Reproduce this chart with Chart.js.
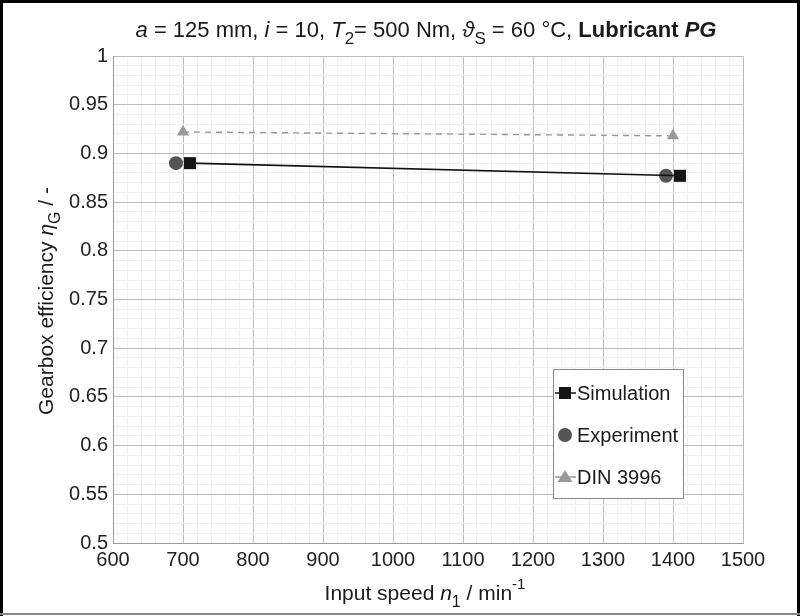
<!DOCTYPE html>
<html><head><meta charset="utf-8">
<script src="https://cdn.jsdelivr.net/npm/chart.js@4/dist/chart.umd.min.js"></script>
<style>
html,body{margin:0;padding:0;background:#fff;}
#wrap{position:relative;width:800px;height:616px;}
canvas{display:block}
</style></head><body>
<div id="wrap"><canvas id="c" width="800" height="616"></canvas></div>
<script>
// ---- data ----
const seriesNames = ['Simulation', 'Experiment', 'DIN 3996'];
const simSpeed = [710, 1410];
const simEff   = [0.890, 0.877];
const expSpeed = [690, 1390];
const expEff   = [0.890, 0.877];
const dinSpeed = [700, 1400];
const dinEff   = [0.922, 0.918];
const xRange = [600, 1500];
const yRange = [0.5, 1];
const xMajor = 100, xMinor = 20;
const yMajor = 0.05, yMinor = 0.01;

// ---- rich texts ----
const titleParts = [
  ['a','i'],[' = 125 mm, ','n'],['i','i'],[' = 10, ','n'],['T','i'],['2','sub'],['= 500 Nm, ','n'],
  ['\u03D1','i'],['S','sub'],[' = 60 \u00B0C, ','n'],['Lubricant ','b'],['PG','bi']
];
const yTitleParts = [['Gearbox efficiency ','n'],['\u03B7','i'],['G','sub'],[' / -','n']];
const xTitleParts = [['Input speed ','n'],['n','i'],['1','sub'],[' / min','n'],['-1','sup']];

const FAM = "'Liberation Sans', Arial, sans-serif";
const HFS = 22;   // main title
const TFS = 21;   // axis titles
const FS = 20;    // ticks / legend

function fontFor(kind, fs){
  switch(kind){
    case 'i': return 'italic ' + fs + 'px ' + FAM;
    case 'b': return 'bold ' + fs + 'px ' + FAM;
    case 'bi': return 'italic bold ' + fs + 'px ' + FAM;
    case 'sub': return Math.round(fs*0.75) + 'px ' + FAM;
    case 'sup': return Math.round(fs*0.7) + 'px ' + FAM;
    default: return fs + 'px ' + FAM;
  }
}
function drawRich(ctx, parts, cx, cy, fs){
  ctx.save();
  ctx.textBaseline = 'alphabetic';
  ctx.textAlign = 'left';
  let w = 0;
  for (const [t,k] of parts){ ctx.font = fontFor(k, fs); w += ctx.measureText(t).width; }
  let x = cx - w/2;
  const base = cy + Math.round(fs*0.36);
  for (const [t,k] of parts){
    ctx.font = fontFor(k, fs);
    let dy = 0;
    if (k === 'sub') dy = Math.round(fs*0.32);
    if (k === 'sup') dy = -Math.round(fs*0.5);
    ctx.fillText(t, x, base + dy);
    x += ctx.measureText(t).width;
  }
  ctx.restore();
}

const decor = {
  id: 'decor',
  beforeDraw(chart){
    const ctx = chart.ctx;
    ctx.save(); ctx.fillStyle = '#fff'; ctx.fillRect(0,0,chart.width,chart.height); ctx.restore();
  },
  afterDraw(chart){
    const ctx = chart.ctx;
    ctx.save();
    ctx.fillStyle = '#1a1a1a';
    drawRich(ctx, titleParts, 426, 29, HFS);
    drawRich(ctx, xTitleParts, 425, 592, TFS);
    ctx.save();
    ctx.translate(45, 301);
    ctx.rotate(-Math.PI/2);
    drawRich(ctx, yTitleParts, 0, 0, TFS);
    ctx.restore();

    // legend box
    const lx = 553, ly = 369, lw = 130, lh = 129;
    ctx.fillStyle = '#fff';
    ctx.fillRect(lx, ly, lw, lh);
    ctx.strokeStyle = '#8a8a8a'; ctx.lineWidth = 1;
    ctx.strokeRect(lx+0.5, ly+0.5, lw, lh);
    const ds = chart.data.datasets;
    const rows = [393, 435, 477];
    ds.forEach((d, i) => {
      const y = rows[i], mx = 565;
      if (d.showLine){
        ctx.strokeStyle = d.borderColor; ctx.lineWidth = 1.5; ctx.setLineDash([]);
        ctx.beginPath(); ctx.moveTo(555, y); ctx.lineTo(576, y); ctx.stroke();
      }
      ctx.fillStyle = d.pointBackgroundColor;
      ctx.beginPath();
      if (d.pointStyle === 'rect'){ ctx.rect(mx-6, y-6, 12, 12); }
      else if (d.pointStyle === 'circle'){ ctx.arc(mx, y, 7, 0, Math.PI*2); }
      else { ctx.moveTo(mx, y-7); ctx.lineTo(mx+7.5, y+5); ctx.lineTo(mx-7.5, y+5); ctx.closePath(); }
      ctx.fill();
      ctx.fillStyle = '#1a1a1a';
      ctx.font = FS + 'px ' + FAM;
      ctx.textBaseline = 'middle'; ctx.textAlign = 'left';
      ctx.fillText(d.label, 577, y+1);
    });

    // outer frame
    ctx.fillStyle = '#000';
    ctx.fillRect(0, 0, 800, 3);
    ctx.fillRect(0, 0, 3, 616);
    ctx.fillRect(797, 0, 3, 616);
    ctx.fillStyle = '#888';
    ctx.fillRect(0, 613, 800, 2);
    ctx.restore();
  }
};

const toPts = (xs, ys) => xs.map((x, i) => ({x: x, y: ys[i]}));

new Chart(document.getElementById('c'), {
  type: 'scatter',
  data: {
    datasets: [
      { label: seriesNames[0], data: toPts(simSpeed, simEff), showLine: true,
        borderColor: '#111', borderWidth: 1.6, pointStyle: 'rect', pointRadius: 8.5,
        pointBackgroundColor: '#151515', pointBorderColor: '#151515', pointBorderWidth: 0 },
      { label: seriesNames[1], data: toPts(expSpeed, expEff), showLine: false,
        borderColor: '#555', pointStyle: 'circle', pointRadius: 7,
        pointBackgroundColor: '#555', pointBorderColor: '#555', pointBorderWidth: 0 },
      { label: seriesNames[2], data: toPts(dinSpeed, dinEff), showLine: true,
        borderColor: '#999', borderWidth: 1.4, borderDash: [6,5], pointStyle: 'triangle', pointRadius: 7,
        pointBackgroundColor: '#999', pointBorderColor: '#999', pointBorderWidth: 0 }
    ]
  },
  options: {
    responsive: false, animation: false, devicePixelRatio: 1,
    layout: { padding: { top: 56, right: 57, left: 0, bottom: 0 } },
    plugins: { legend: { display: false }, title: { display: false }, tooltip: { enabled: false } },
    scales: {
      x: {
        type: 'linear', min: xRange[0], max: xRange[1],
        afterFit(s){ s.height = 73; },
        ticks: {
          stepSize: xMinor, autoSkip: false, maxRotation: 0, padding: 5,
          color: '#222', font: { family: FAM, size: FS },
          callback: v => (Math.round(v) % xMajor === 0 ? String(Math.round(v)) : '')
        },
        grid: {
          drawTicks: false,
          color: c => (c.tick && Math.round(c.tick.value) % xMajor === 0) ? '#bdbdbd' : '#eeeeee',
          lineWidth: 1
        },
        border: { color: '#9a9a9a' }
      },
      y: {
        type: 'linear', min: yRange[0], max: yRange[1],
        afterFit(s){ s.width = 113; },
        ticks: {
          stepSize: yMinor, autoSkip: false, padding: 5,
          color: '#222', font: { family: FAM, size: FS },
          callback: v => (Math.round(v*100) % Math.round(yMajor*100) === 0 ? String(Math.round(v*100)/100) : '')
        },
        grid: {
          drawTicks: false,
          color: c => (c.tick && Math.round(c.tick.value*100) % Math.round(yMajor*100) === 0) ? '#bdbdbd' : '#eeeeee',
          lineWidth: 1
        },
        border: { color: '#9a9a9a' }
      }
    }
  },
  plugins: [decor]
});
</script>
</body></html>
